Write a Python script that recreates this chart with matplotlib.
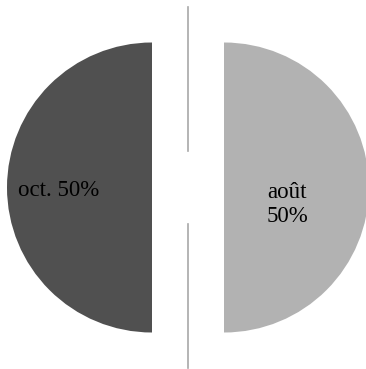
import matplotlib.pyplot as plt

labels = ['oct.', 'août']
values = [50, 50]
colors = ['#505050', '#b2b2b2']
label_texts = ['oct. 50%', 'août\n50%']

plt.rcParams['font.family'] = ['Liberation Serif', 'DejaVu Serif']

W, H = 366, 369
fig = plt.figure(figsize=(W / 100, H / 100), dpi=100)
ax = fig.add_axes([0, 0, 1, 1])

# centre du camembert (coordonnées pixels, y vers le bas)
cx, cy, r = 188, 187.5, 145
explode = [36, 36]  # pie utilise l'explode en unités de données

wedges, _ = ax.pie(values, colors=colors, startangle=90, counterclock=True,
                   radius=r, center=(cx, cy), explode=explode,
                   wedgeprops=dict(linewidth=0), frame=True)
ax.set_xlim(0, W)
ax.set_ylim(H, 0)
ax.set_aspect('equal')
ax.axis('off')

# décalages des étiquettes par rapport au centre
offsets = [(-129, 2.5), (99, 17)]
for txt, (dx, dy) in zip(label_texts, offsets):
    ax.text(cx + dx, cy + dy, txt, ha='center', va='center',
            fontsize=16.5, color='black', linespacing=1.2)

# ligne verticale coupée au centre
ax.plot([cx, cx], [7, 151], color='#a8a8a8', lw=1.2)
ax.plot([cx, cx], [224, 368], color='#a8a8a8', lw=1.2)

fig.savefig('out.png', dpi=100)
